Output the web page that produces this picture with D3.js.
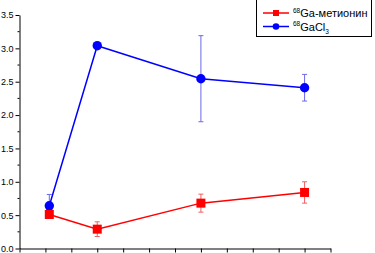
<!DOCTYPE html>
<html><head><meta charset="utf-8">
<script src="https://cdn.jsdelivr.net/npm/d3@7/dist/d3.min.js"></script>
<style>body{margin:0;background:#fff}svg{display:block;font-family:"Liberation Sans",Arial,sans-serif}</style>
</head><body><svg id="c" width="375" height="253"></svg>
<script>
const xVals = [1.15, 3, 7, 11];
const metValues = [0.51, 0.29, 0.68, 0.84];
const metErrors = [0.04, 0.11, 0.135, 0.16];
const clValues = [0.64, 3.04, 2.545, 2.41];
const clErrors = [0.17, 0.04, 0.645, 0.2];
const yTicks = [0, 0.5, 1.0, 1.5, 2.0, 2.5, 3.0, 3.5];

const svg = d3.select("#c");
const x = d3.scaleLinear().domain([0, 12]).range([19.5, 330.5]);
const y = d3.scaleLinear().domain([0, 3.5]).range([248.5, 15]);

// axes
const yAxis = d3.axisLeft(y).tickValues(yTicks).tickFormat(d3.format(".1f")).tickSize(4).tickSizeOuter(0).tickPadding(2);
const gy = svg.append("g").attr("transform", "translate(19.5,0)").call(yAxis);
gy.selectAll("text").style("font-size", "9px").attr("fill", "#000");
gy.append("g").selectAll("line").data(d3.range(0.25, 3.5, 0.5)).join("line")
  .attr("x1", -2).attr("x2", 0).attr("y1", d => y(d)).attr("y2", d => y(d)).attr("stroke", "#000");

const xAxis = d3.axisBottom(x).tickValues(d3.range(0, 13, 1)).tickFormat("").tickSize(4).tickSizeOuter(0);
svg.append("g").attr("transform", "translate(0,248.5)").call(xAxis);
svg.selectAll(".domain").attr("stroke", "#000");

function series(vals, errs, color, errColor, shape) {
  const g = svg.append("g");
  const pts = vals.map((v, i) => ({x: xVals[i], v, e: errs[i]}));
  // error bars
  pts.forEach(p => {
    const cx = x(p.x);
    g.append("line").attr("x1", cx).attr("x2", cx).attr("y1", y(p.v + p.e)).attr("y2", y(p.v - p.e)).attr("stroke", errColor).attr("stroke-width", 1);
    [p.v + p.e, p.v - p.e].forEach(yy => g.append("line").attr("x1", cx - 2.5).attr("x2", cx + 2.5).attr("y1", y(yy)).attr("y2", y(yy)).attr("stroke", errColor).attr("stroke-width", 1));
  });
  g.append("path").datum(pts).attr("fill", "none").attr("stroke", color).attr("stroke-width", 1.5)
    .attr("d", d3.line().x(d => x(d.x)).y(d => y(d.v)));
  if (shape === "square") {
    g.selectAll("rect").data(pts).join("rect").attr("x", d => x(d.x) - 4.5).attr("y", d => y(d.v) - 4.5)
      .attr("width", 9).attr("height", 9).attr("fill", color);
  } else {
    g.selectAll("circle").data(pts).join("circle").attr("cx", d => x(d.x)).attr("cy", d => y(d.v)).attr("r", 4.7).attr("fill", color);
  }
}
series(clValues, clErrors, "#0000ff", "#6a6ae6", "circle");
series(metValues, metErrors, "#ff0000", "#ef6060", "square");

// legend
const lg = svg.append("g");
lg.append("rect").attr("x", 256.5).attr("y", -0.5).attr("width", 115).attr("height", 37).attr("fill", "#fff").attr("stroke", "#000").attr("stroke-width", 1);
const items = [
  {color: "#ff0000", shape: "square", sup: "68", main: "Ga-метионин", sub: "", yy: 13},
  {color: "#0000ff", shape: "circle", sup: "68", main: "GaCl", sub: "3", yy: 26.5}
];
items.forEach(it => {
  lg.append("line").attr("x1", 263).attr("x2", 289).attr("y1", it.yy).attr("y2", it.yy).attr("stroke", it.color).attr("stroke-width", 1.5);
  if (it.shape === "square") lg.append("rect").attr("x", 273).attr("y", it.yy - 3).attr("width", 6).attr("height", 6).attr("fill", it.color);
  else lg.append("circle").attr("cx", 276).attr("cy", it.yy).attr("r", 3.3).attr("fill", it.color);
  const t = lg.append("text").attr("x", 293).attr("y", it.yy + 4).style("font-size", "11px").attr("fill", "#000");
  t.append("tspan").text(it.sup).style("font-size", "6.5px").attr("dy", -4.5);
  t.append("tspan").text(it.main).attr("dy", 4.5);
  if (it.sub) t.append("tspan").text(it.sub).style("font-size", "6.5px").attr("dy", 3);
});
</script></body></html>
